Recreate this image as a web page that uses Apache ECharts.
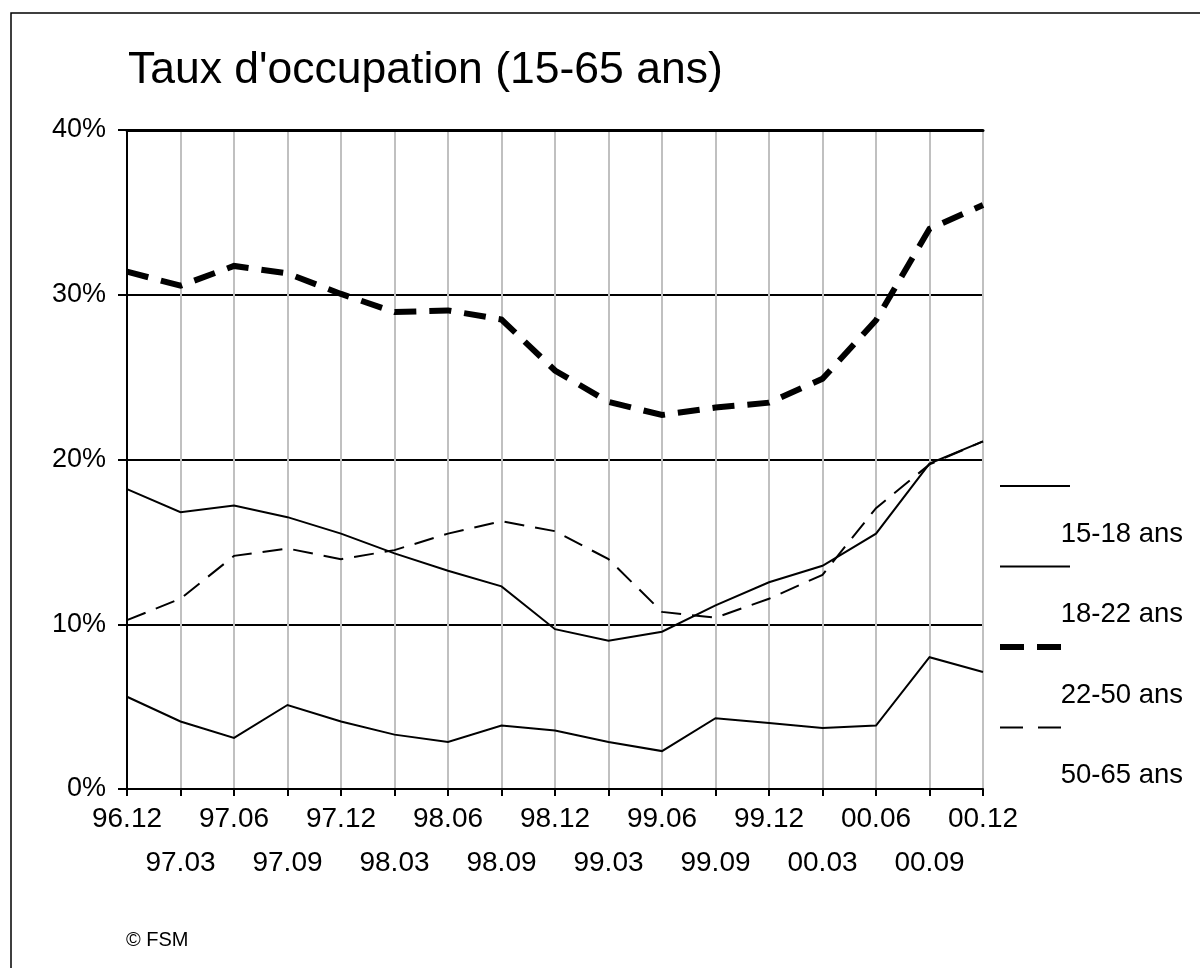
<!DOCTYPE html>
<html>
<head>
<meta charset="utf-8">
<script src="https://cdn.jsdelivr.net/npm/echarts@6/dist/echarts.min.js"></script>
<style>
	html, body { margin: 0; padding: 0; background: #fff; }
	#chart { width: 1200px; height: 968px; }
</style>
</head>
<body>
<div id="chart"></div>
<script>
// quarters, 96.12 -> 00.12
const quarters = ['96.12', '97.03', '97.06', '97.09', '97.12', '98.03', '98.06', '98.09', '98.12',
	'99.03', '99.06', '99.09', '99.12', '00.03', '00.06', '00.09', '00.12'];

// taux d'occupation, %
const ages15to18 = [5.6, 4.1, 3.1, 5.1, 4.1, 3.3, 2.85, 3.85, 3.55, 2.85, 2.3, 4.3, 4.0, 3.7, 3.85, 8.0, 7.1];
const ages18to22 = [18.2, 16.8, 17.2, 16.5, 15.5, 14.3, 13.25, 12.3, 9.7, 9.0, 9.55, 11.15, 12.55, 13.55, 15.5, 19.75, 21.1];
const ages22to50 = [31.4, 30.55, 31.75, 31.3, 30.05, 28.95, 29.05, 28.5, 25.4, 23.5, 22.7, 23.15, 23.45, 24.9, 28.45, 34.0, 35.45];
const ages50to65 = [10.25, 11.55, 14.15, 14.6, 13.95, 14.5, 15.5, 16.25, 15.65, 13.95, 10.75, 10.4, 11.55, 13.0, 17.05, 19.7, 21.1];

const seriesNames = ['15-18 ans', '18-22 ans', '22-50 ans', '50-65 ans'];
const yTicks = [0, 10, 20, 30, 40];

const font = "'Liberation Sans', Arial, sans-serif";

const lineStyles = [
	{ width: 2, type: 'solid' },
	{ width: 2, type: 'solid' },
	{ width: 6, type: [22, 13] },
	{ width: 2, type: [20, 11] }
];
const seriesData = [ages15to18, ages18to22, ages22to50, ages50to65];

// legend is drawn by hand: sample line above, label below-right
const legendGraphics = [];
seriesNames.forEach((name, i) => {
	const y = 486 + i * 80.5;
	const st = lineStyles[i];
	legendGraphics.push({
		type: 'line',
		shape: { x1: 1000, y1: y, x2: i < 2 ? 1070 : 1064, y2: y },
		style: {
			stroke: '#000',
			lineWidth: st.width,
			lineDash: i === 2 ? [24, 13] : (i === 3 ? [23, 15] : null)
		}
	});
	legendGraphics.push({
		type: 'text',
		style: {
			text: name,
			x: 1183,
			y: y + 48,
			align: 'right',
			verticalAlign: 'middle',
			font: '27.5px ' + font,
			fill: '#000'
		}
	});
});

const chart = echarts.init(document.getElementById('chart'), null, { renderer: 'canvas' });
chart.setOption({
	backgroundColor: '#fff',
	animation: false,
	grid: { left: 127, right: 217, top: 130, bottom: 179 },
	xAxis: [{
		type: 'category',
		data: quarters,
		boundaryGap: false,
		axisLine: { lineStyle: { color: '#000', width: 2 } },
		axisTick: { show: true, interval: 0, length: 7, lineStyle: { color: '#000', width: 2 } },
		axisLabel: {
			interval: 0,
			margin: 8,
			color: '#000',
			fontFamily: font,
			fontSize: 28,
			lineHeight: 44,
			formatter: (v, i) => (i % 2 ? '\n' + v : v)
		},
		splitLine: { show: true, interval: 0, lineStyle: { color: '#c0c0c0', width: 2 } }
	}, {
		type: 'category',
		data: quarters,
		position: 'top',
		boundaryGap: false,
		axisLine: { lineStyle: { color: '#000', width: 3 } },
		axisTick: { show: false },
		axisLabel: { show: false },
		splitLine: { show: false }
	}],
	yAxis: {
		type: 'value',
		min: yTicks[0],
		max: yTicks[yTicks.length - 1],
		interval: 10,
		axisLine: { show: true, lineStyle: { color: '#000', width: 2 } },
		axisTick: { show: true, length: 9, lineStyle: { color: '#000', width: 2 } },
		axisLabel: {
			margin: 21,
			color: '#000',
			fontFamily: font,
			fontSize: 27,
			formatter: '{value}%'
		},
		splitLine: { show: true, lineStyle: { color: '#000', width: 2 } }
	},
	series: seriesNames.map((name, i) => ({
		name,
		type: 'line',
		data: seriesData[i],
		symbol: 'none',
		z: 3 + i,
		lineStyle: { color: '#000', width: lineStyles[i].width, type: lineStyles[i].type, cap: 'butt', join: 'miter' }
	})),
	graphic: [
		{
			type: 'rect',
			shape: { x: 11, y: 13, width: 1300, height: 1100 },
			style: { fill: 'none', stroke: '#000', lineWidth: 1.5 },
			z: -1
		},
		{
			type: 'text',
			style: {
				text: "Taux d'occupation (15-65 ans)",
				x: 128,
				y: 71,
				verticalAlign: 'middle',
				font: '44.5px ' + font,
				fill: '#000'
			}
		},
		{
			type: 'text',
			style: {
				text: '© FSM',
				x: 126,
				y: 940,
				verticalAlign: 'middle',
				font: '20px ' + font,
				fill: '#000'
			}
		}
	].concat(legendGraphics)
});
</script>
</body>
</html>
